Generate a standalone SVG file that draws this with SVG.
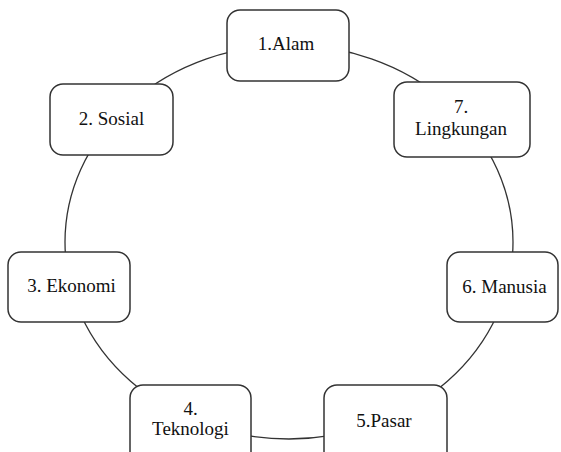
<svg xmlns="http://www.w3.org/2000/svg" width="561" height="452" viewBox="0 0 561 452">
<style>
.box{fill:#fff;stroke:#333;stroke-width:1.5}
.lbl{font-family:"Liberation Serif","Times New Roman","DejaVu Serif",serif;font-size:19px;fill:#111;text-anchor:middle}
.conn{fill:none;stroke:#333;stroke-width:1.3}
</style>
<rect width="561" height="452" fill="#fff"/>
<g id="connectors">
<ellipse class="conn" cx="289" cy="242" rx="224" ry="197"/>
</g>
<g id="n1"><rect class="box" x="227" y="10" width="122" height="71" rx="13"/><text class="lbl" x="286" y="50">1.Alam</text></g>
<g id="n2"><rect class="box" x="50" y="84" width="123" height="71" rx="13"/><text class="lbl" x="111.5" y="125">2. Sosial</text></g>
<g id="n3"><rect class="box" x="8" y="252" width="122" height="70" rx="13"/><text class="lbl" x="71.5" y="292">3. Ekonomi</text></g>
<g id="n4"><rect class="box" x="130" y="385" width="121" height="80" rx="13"/><text class="lbl" x="190.5" y="415">4.</text><text class="lbl" x="190.5" y="435">Teknologi</text></g>
<g id="n5"><rect class="box" x="324" y="385" width="123" height="80" rx="13"/><text class="lbl" x="384" y="427">5.Pasar</text></g>
<g id="n6"><rect class="box" x="447" y="252" width="111" height="70" rx="13"/><text class="lbl" x="504.5" y="293">6. Manusia</text></g>
<g id="n7"><rect class="box" x="394" y="82" width="136" height="75" rx="13"/><text class="lbl" x="461" y="113">7.</text><text class="lbl" x="461" y="135">Lingkungan</text></g>
</svg>
